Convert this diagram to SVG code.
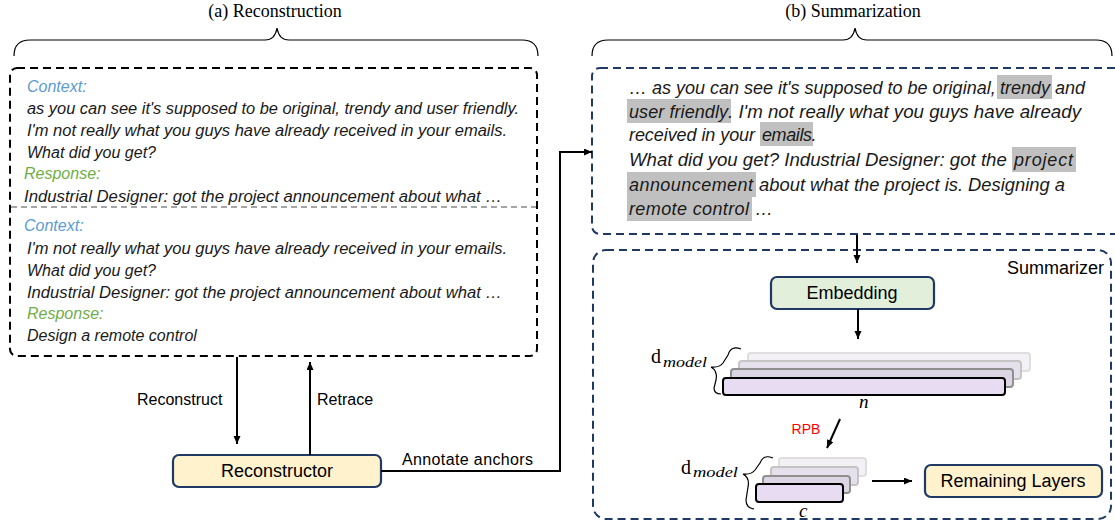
<svg xmlns="http://www.w3.org/2000/svg" width="1115" height="522" viewBox="0 0 1115 522">
<defs>
<marker id="ah" markerWidth="9" markerHeight="8" refX="8" refY="3.5" orient="auto" markerUnits="userSpaceOnUse"><path d="M0,0 L8,3.5 L0,7 z" fill="#000"/></marker>
<style>
.title{font-family:"Liberation Serif",serif;font-size:18px;fill:#000;text-anchor:middle}
.brace{fill:none;stroke:#000;stroke-width:1.2}
.it{font-family:"Liberation Sans",Arial,sans-serif;font-style:italic;font-size:16px;fill:#1a1a1a}
.itr{font-family:"Liberation Sans",Arial,sans-serif;font-style:italic;font-size:18px;fill:#1a1a1a}
.ctx{fill:#5b9bd5}
.rsp{fill:#70ad47}
.lbl{font-family:"Liberation Sans",Arial,sans-serif;font-size:16px;fill:#000}
.node{font-family:"Liberation Sans",Arial,sans-serif;font-size:18px;fill:#000;text-anchor:middle}
.conn{fill:none;stroke:#000;stroke-width:2}
.hl{fill:#c0c0c0}
.math{font-family:"Liberation Serif",serif;fill:#000}
.box{stroke:#1f3864;stroke-width:2.2}
</style>
</defs>
<!-- titles and braces -->
<text class="title" x="275" y="17">(a) Reconstruction</text>
<text class="title" x="853" y="17">(b) Summarization</text>
<path class="brace" d="M14,56 Q14,40 30,40 L265,40 Q275,40 277,28 Q279,40 289,40 L522,40 Q538,40 538,56"/>
<path class="brace" d="M592,56 Q592,40 608,40 L843,40 Q853,40 855,28 Q857,40 867,40 L1096,40 Q1112,40 1112,56"/>

<!-- left reconstruction box -->
<g id="recon-box">
<rect x="10" y="68" width="527" height="288" rx="7" fill="none" stroke="#000" stroke-width="2" stroke-dasharray="8 5"/>
<line x1="11" y1="207" x2="536" y2="207" stroke="#888" stroke-width="1.5" stroke-dasharray="6 4"/>
<text class="it ctx" x="27" y="92">Context:</text>
<text class="it" x="27" y="114" textLength="492" lengthAdjust="spacingAndGlyphs">as you can see it's supposed to be original, trendy and user friendly.</text>
<text class="it" x="27" y="136" textLength="480" lengthAdjust="spacingAndGlyphs">I'm not really what you guys have already received in your emails.</text>
<text class="it" x="27" y="158">What did you get?</text>
<text class="it rsp" x="24" y="179">Response:</text>
<text class="it" x="24" y="202" textLength="478" lengthAdjust="spacingAndGlyphs">Industrial Designer: got the project announcement about what …</text>
<text class="it ctx" x="24" y="231">Context:</text>
<text class="it" x="27" y="254" textLength="480" lengthAdjust="spacingAndGlyphs">I'm not really what you guys have already received in your emails.</text>
<text class="it" x="27" y="276">What did you get?</text>
<text class="it" x="27" y="298" textLength="475" lengthAdjust="spacingAndGlyphs">Industrial Designer: got the project announcement about what …</text>
<text class="it rsp" x="27" y="319">Response:</text>
<text class="it" x="27" y="341">Design a remote control</text>
</g>

<g id="reconstructor">
<rect x="173" y="455" width="208" height="32" rx="6" fill="#fff2cc" class="box"/>
<text class="node" x="277" y="477">Reconstructor</text>
</g>

<!-- right annotated text box -->
<g id="anchor-box">
<rect x="592" y="68" width="545" height="166" rx="8" fill="none" stroke="#1f3864" stroke-width="2" stroke-dasharray="8 5"/>
<rect class="hl" x="997" y="75" width="55" height="24"/>
<rect class="hl" x="627" y="99" width="104" height="24"/>
<rect class="hl" x="760" y="122" width="53" height="24"/>
<rect class="hl" x="1012" y="147" width="64" height="25"/>
<rect class="hl" x="627" y="172" width="129" height="25"/>
<rect class="hl" x="627" y="197" width="125" height="24"/>
<text class="itr" x="629" y="94">… as you can see it's supposed to be original, <tspan x="1000">trendy</tspan> and</text>
<text class="itr" x="629" y="118"><tspan textLength="99">user friendly</tspan><tspan x="728" textLength="353" lengthAdjust="spacingAndGlyphs">. I'm not really what you guys have already</tspan></text>
<text class="itr" x="629" y="141"><tspan textLength="131">received in your </tspan><tspan x="762" textLength="50">emails</tspan>.</text>
<text class="itr" x="629" y="166"><tspan textLength="383" lengthAdjust="spacingAndGlyphs">What did you get? Industrial Designer: got the </tspan><tspan x="1014" textLength="59">project</tspan></text>
<text class="itr" x="629" y="191"><tspan textLength="124">announcement</tspan><tspan x="754" textLength="311" lengthAdjust="spacingAndGlyphs"> about what the project is. Designing a</tspan></text>
<text class="itr" x="629" y="215"><tspan textLength="120">remote control</tspan><tspan x="750"> …</tspan></text>
</g>

<!-- summarizer -->
<g id="summarizer">
<rect x="593" y="250" width="518" height="269" rx="13" fill="none" stroke="#1f3864" stroke-width="2" stroke-dasharray="8 5"/>
<text class="node" x="1104" y="274" style="text-anchor:end">Summarizer</text>
</g>

<g id="embedding">
<rect x="771" y="277" width="163" height="32" rx="6" fill="#e2efda" class="box"/>
<text class="node" x="852" y="299">Embedding</text>
</g>

<g id="layers-n">
<rect x="748" y="353" width="282" height="18" rx="3" fill="#f3f1f5" stroke="#dedede" stroke-width="2"/>
<rect x="739" y="361" width="282" height="18" rx="3" fill="#e6e0ec" stroke="#c4c4c4" stroke-width="2"/>
<rect x="731" y="369" width="282" height="18" rx="3" fill="#dcd5e4" stroke="#8f8f8f" stroke-width="2"/>
<rect x="723" y="378" width="282" height="17" rx="3" fill="#e7dcf2" stroke="#000" stroke-width="2"/>
<text class="math" x="651" y="363" font-size="20">d</text>
<text class="math" x="663" y="367" font-size="15" font-style="italic" textLength="44" lengthAdjust="spacingAndGlyphs">model</text>
<path class="brace" d="M741,349 Q731,345 728,355 L723,363 Q719,368 711,367 Q718,371 716,380 L714,388 Q714,394 721,394"/>
<text class="math" x="859" y="408" font-size="19" font-style="italic">n</text>
</g>

<g id="rpb">
<text x="806" y="434" font-family="Liberation Sans, Arial, sans-serif" font-size="14" fill="#ff0000" text-anchor="middle">RPB</text>
</g>

<g id="layers-c">
<rect x="779" y="458" width="87" height="18" rx="3" fill="#f3f1f5" stroke="#dedede" stroke-width="2"/>
<rect x="771" y="467" width="87" height="18" rx="3" fill="#e6e0ec" stroke="#c4c4c4" stroke-width="2"/>
<rect x="763" y="476" width="87" height="17" rx="3" fill="#dcd5e4" stroke="#8f8f8f" stroke-width="2"/>
<rect x="756" y="484" width="87" height="18" rx="3" fill="#e7dcf2" stroke="#000" stroke-width="2"/>
<text class="math" x="681" y="474" font-size="20">d</text>
<text class="math" x="693" y="477" font-size="15" font-style="italic" textLength="45" lengthAdjust="spacingAndGlyphs">model</text>
<path class="brace" d="M773,458 Q763,454 760,463 L755,470 Q751,475 743,474 Q750,478 748,487 L746,500 Q746,508 754,509"/>
<text class="math" x="799" y="517" font-size="19" font-style="italic">c</text>
</g>

<g id="remaining">
<rect x="925" y="465" width="177" height="32" rx="6" fill="#fff2cc" class="box"/>
<text class="node" x="1013" y="487">Remaining Layers</text>
</g>

<g id="connectors">
<line class="conn" x1="237" y1="357" x2="237" y2="444" marker-end="url(#ah)"/>
<line class="conn" x1="310" y1="455" x2="310" y2="362" marker-end="url(#ah)"/>
<polyline class="conn" points="381,471 560,471 560,152 592,152" marker-end="url(#ah)"/>
<line class="conn" x1="857" y1="235" x2="857" y2="263" marker-end="url(#ah)"/>
<line class="conn" x1="858" y1="309" x2="858" y2="339" marker-end="url(#ah)"/>
<line class="conn" x1="840" y1="419" x2="827" y2="448" marker-end="url(#ah)"/>
<line class="conn" x1="872" y1="481" x2="912" y2="481" marker-end="url(#ah)"/>
</g>
<g id="labels">
<text class="lbl" x="137" y="405">Reconstruct</text>
<text class="lbl" x="317" y="405">Retrace</text>
<text class="lbl" x="402" y="465" textLength="131">Annotate anchors</text>
</g>
</svg>
